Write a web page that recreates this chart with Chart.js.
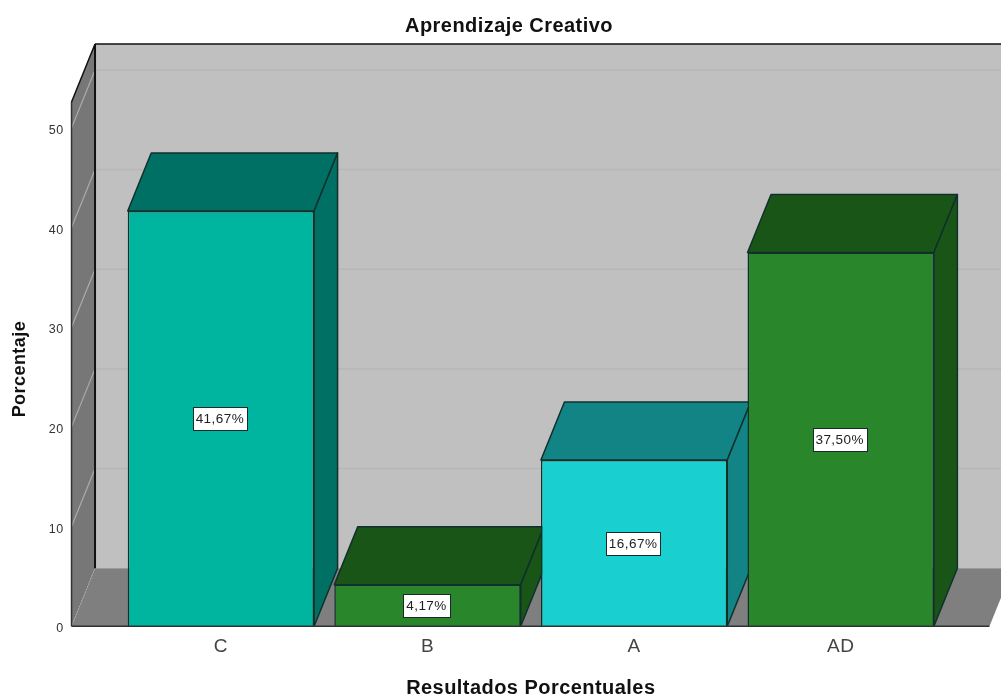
<!DOCTYPE html>
<html>
<head>
<meta charset="utf-8">
<title>Aprendizaje Creativo</title>
<script src="https://cdn.jsdelivr.net/npm/chart.js@4"></script>
<style>
  html, body { margin: 0; padding: 0; background: #fff; }
  canvas { display: block; }
</style>
</head>
<body>
<canvas id="chart" width="1001" height="698"></canvas>
<script>
// Data
const categories = ['C', 'B', 'A', 'AD'];
const percentages = [41.67, 4.17, 16.67, 37.5];
const barLabels = ['41,67%', '4,17%', '16,67%', '37,50%'];
const frontColors = ['#00b5a0', '#2a862a', '#1acfd0', '#2a862a'];
const sideColors = ['#007064', '#1a5518', '#128485', '#1a5518'];

// 3D look
const depthX = 23.5;
const depthY = 58;
const wallTop = 52.6; // walls run a bit higher than the y axis
const edgeColor = '#10302c';
const font = '"Liberation Sans", Arial, sans-serif';
const spacing = '0.45px'; // original text is a little wider than Liberation

function poly(ctx, pts, fill, stroke, lw) {
  ctx.beginPath();
  pts.forEach((p, i) => i ? ctx.lineTo(p[0], p[1]) : ctx.moveTo(p[0], p[1]));
  ctx.closePath();
  if (fill) { ctx.fillStyle = fill; ctx.fill(); }
  if (stroke) { ctx.strokeStyle = stroke; ctx.lineWidth = lw || 1.5; ctx.lineJoin = 'round'; ctx.stroke(); }
}

function line(ctx, x1, y1, x2, y2, color, lw) {
  ctx.beginPath();
  ctx.moveTo(x1, y1);
  ctx.lineTo(x2, y2);
  ctx.strokeStyle = color;
  ctx.lineWidth = lw;
  ctx.stroke();
}

const box3d = {
  id: 'box3d',
  beforeLayout(chart) {
    chart.ctx.letterSpacing = spacing;
  },
  afterLayout(chart) {
    // title sits right of the canvas centre
    chart.titleBlock.left = 74;
  },
  beforeDraw(chart) {
    chart.ctx.letterSpacing = spacing;
  },
  beforeDatasetsDraw(chart) {
    const ctx = chart.ctx;
    const y = chart.scales.y;
    const x = chart.scales.x;
    const w = chart.width;
    const base = y.getPixelForValue(0);
    const top = y.getPixelForValue(wallTop);
    // walls start and end outside the first and last band
    const band = x.getPixelForValue(1) - x.getPixelForValue(0);
    const floorL = x.getPixelForValue(0) - band * 0.723;
    const floorR = x.getPixelForValue(categories.length - 1) + band * 0.72;

    ctx.save();
    // back wall
    poly(ctx, [[floorL + depthX, top - depthY], [w, top - depthY], [w, base - depthY], [floorL + depthX, base - depthY]], '#c0c0c0');
    // left wall
    poly(ctx, [[floorL, top], [floorL + depthX, top - depthY], [floorL + depthX, base - depthY], [floorL, base]], '#777777');
    // floor
    poly(ctx, [[floorL, base], [floorL + depthX, base - depthY], [floorR + depthX, base - depthY], [floorR, base]], '#7f7f7f');

    // gridlines
    y.ticks.forEach(t => {
      if (t.value === 0) return;
      const py = y.getPixelForValue(t.value);
      line(ctx, floorL + depthX, py - depthY, w, py - depthY, '#b6b6b6', 1.5);
      line(ctx, floorL, py, floorL + depthX, py - depthY, '#ababab', 1.2);
    });

    // dotted corner of the floor
    ctx.setLineDash([1, 2]);
    line(ctx, floorL, base, floorL + depthX, base - depthY, '#b5b5b5', 1);
    ctx.setLineDash([]);

    // wall edges
    line(ctx, floorL + depthX, top - depthY, w, top - depthY, '#111', 1.5);
    line(ctx, floorL + depthX, top - depthY, floorL + depthX, base - depthY, '#111', 2);
    line(ctx, floorL, top, floorL + depthX, top - depthY, '#111', 1.5);
    line(ctx, floorL, top, floorL, base, '#333', 1.5);

    // top and side faces, left to right
    chart.getDatasetMeta(0).data.forEach((bar, i) => {
      const l = bar.x - bar.width / 2;
      const r = bar.x + bar.width / 2;
      const t = bar.y;
      const b = bar.base;
      poly(ctx, [[l, t], [l + depthX, t - depthY], [r + depthX, t - depthY], [r, t]], sideColors[i], edgeColor);
      poly(ctx, [[r, t], [r + depthX, t - depthY], [r + depthX, b - depthY], [r, b]], sideColors[i], edgeColor);
    });
    ctx.restore();
  },
  afterDatasetsDraw(chart) {
    const ctx = chart.ctx;
    const y = chart.scales.y;
    const x = chart.scales.x;
    const base = y.getPixelForValue(0);
    const band = x.getPixelForValue(1) - x.getPixelForValue(0);
    const floorL = x.getPixelForValue(0) - band * 0.723;
    const floorR = x.getPixelForValue(categories.length - 1) + band * 0.72;

    ctx.save();
    line(ctx, floorL, base, floorR, base, '#2b3333', 1.5);

    // value labels in white boxes
    ctx.font = '13.5px ' + font;
    ctx.textAlign = 'center';
    ctx.textBaseline = 'middle';
    chart.getDatasetMeta(0).data.forEach((bar, i) => {
      const cy = (bar.y + bar.base) / 2;
      const tw = Math.round(ctx.measureText(barLabels[i]).width) + 6;
      const bx = Math.round(bar.x - tw / 2 - 1) + 0.5;
      const by = Math.round(cy - 11.5) + 0.5;
      ctx.fillStyle = '#fff';
      ctx.fillRect(bx, by, tw, 23);
      ctx.strokeStyle = '#1a2a2a';
      ctx.lineWidth = 1;
      ctx.strokeRect(bx, by, tw, 23);
      ctx.fillStyle = '#222';
      ctx.fillText(barLabels[i], bar.x - 1, cy + 1);
    });
    ctx.restore();
  }
};

new Chart(document.getElementById('chart'), {
  type: 'bar',
  data: {
    labels: categories,
    datasets: [{
      data: percentages,
      backgroundColor: frontColors,
      borderColor: edgeColor,
      borderWidth: 1.5,
      categoryPercentage: 1,
      barPercentage: 0.902
    }]
  },
  options: {
    responsive: false,
    animation: false,
    layout: { padding: { right: 57, top: 0, bottom: 0 } },
    plugins: {
      legend: { display: false },
      tooltip: { enabled: false },
      title: {
        display: true,
        text: 'Aprendizaje Creativo',
        color: '#111',
        font: { family: font, size: 20, weight: 'bold' },
        padding: { top: 14, bottom: 74 }
      }
    },
    scales: {
      x: {
        grid: { display: false },
        border: { display: false },
        ticks: { color: '#444', font: { family: font, size: 19 }, padding: 1 },
        title: {
          display: true,
          text: 'Resultados Porcentuales',
          color: '#111',
          font: { family: font, size: 20, weight: 'bold' },
          padding: { top: 17, bottom: -2 }
        }
      },
      y: {
        min: 0,
        max: 51.6,
        afterFit(scale) { scale.width = 117.6; },
        grid: { display: false, drawTicks: false },
        border: { display: false },
        ticks: {
          stepSize: 10,
          includeBounds: false,
          color: '#333',
          font: { family: font, size: 12.5 },
          padding: 54,
          labelOffset: 2.5
        },
        title: {
          display: true,
          text: 'Porcentaje',
          color: '#111',
          font: { family: font, size: 18, weight: 'bold' },
          padding: { top: 9, bottom: 0 }
        }
      }
    }
  },
  plugins: [box3d]
});
</script>
</body>
</html>
